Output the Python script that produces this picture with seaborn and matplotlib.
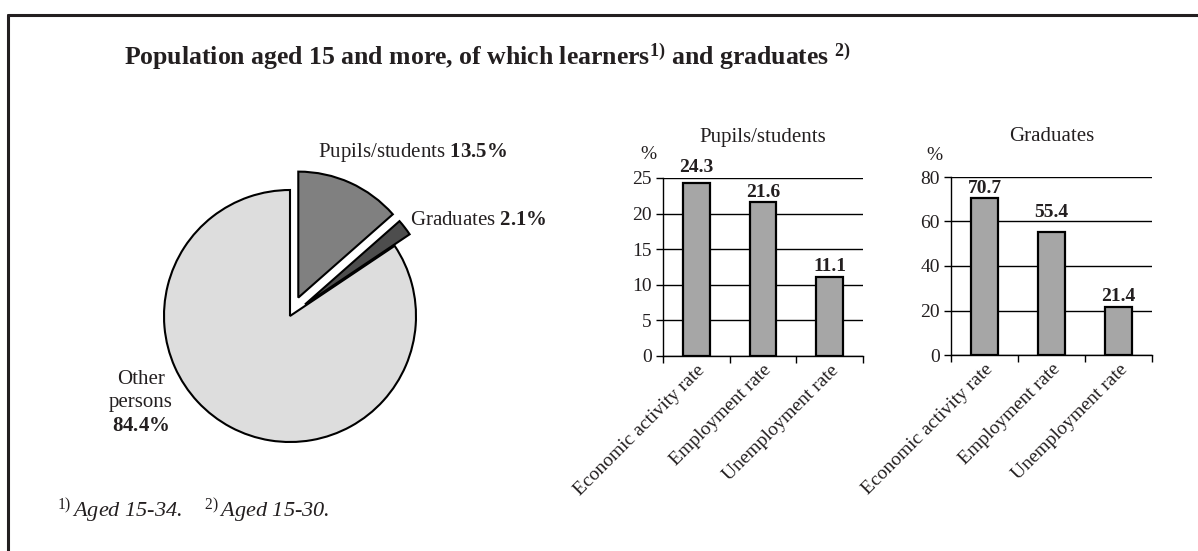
import matplotlib
matplotlib.use("Agg")
import matplotlib.pyplot as plt
import seaborn as sns
import pandas as pd
from matplotlib.lines import Line2D

# ---------------- data ----------------
pie_labels = ["Pupils/students", "Graduates", "Other\npersons"]
pie_values = [13.5, 2.1, 84.4]
rate_categories = ["Economic activity rate", "Employment rate", "Unemployment rate"]
pupils_rates = [24.3, 21.6, 11.1]
graduates_rates = [70.7, 55.4, 21.4]
pupils_yticks = [0, 5, 10, 15, 20, 25]
graduates_yticks = [0, 20, 40, 60, 80]
bar_titles = ["Pupils/students", "Graduates"]
title_main = "Population aged 15 and more, of which learners"
title_mid = " and graduates "
footnotes = [("1)", "Aged 15-34."), ("2)", "Aged 15-30.")]

# ---------------- style ----------------
sns.set_theme(style="white")
plt.rcParams["font.family"] = ["Liberation Serif", "DejaVu Serif"]
plt.rcParams["mathtext.fontset"] = "custom"
plt.rcParams["mathtext.rm"] = "Liberation Serif"
plt.rcParams["mathtext.it"] = "Liberation Serif:italic"
plt.rcParams["mathtext.bf"] = "Liberation Serif:bold"
TXT = "#231f20"
plt.rcParams["text.color"] = TXT
plt.rcParams["xtick.color"] = TXT
plt.rcParams["ytick.color"] = TXT

W, H = 1198, 551
fig = plt.figure(figsize=(W / 100, H / 100), dpi=100)
fig.patch.set_facecolor("white")


def px_rect(left, top, right, bottom):
    return [left / W, 1 - bottom / H, (right - left) / W, (bottom - top) / H]


# ---------------- frame ----------------
fy = 1 - 14.5 / H
fx = 8 / W
fig.add_artist(Line2D([fx, 1.0], [fy, fy], transform=fig.transFigure, color=TXT, lw=2.2))
fig.add_artist(Line2D([fx, fx], [fy, 0.0], transform=fig.transFigure, color=TXT, lw=2.2))

# ---------------- title ----------------
title = title_main + r"$^{\mathbf{1)}}$" + title_mid + r"$^{\mathbf{2)}}$"
fig.text(487 / W, 1 - 57 / H, title, ha="center", va="center",
         fontsize=18.5, fontweight="bold")

# ---------------- pie ----------------
cx, cy, r = 290, 316, 126
ax_pie = fig.add_axes(px_rect(cx - 2 * r, cy - 1.5 * r, cx + 2 * r, cy + 1.5 * r))
ax_pie.pie(pie_values, explode=[0.16, 0.15, 0.0],
           colors=["#808080", "#4d4d4d", "#dddddd"],
           startangle=90, counterclock=False,
           wedgeprops=dict(edgecolor="black", linewidth=1.5))
ax_pie.set_xlim(-2, 2)
ax_pie.set_ylim(-1.5, 1.5)
ax_pie.axis("off")

ax_pie.text(0.222, 1.262, f"{pie_labels[0]} $\\mathbf{{{pie_values[0]}\\%}}$",
            ha="left", va="baseline", fontsize=15)
ax_pie.text(0.952, 0.722, f"{pie_labels[1]} $\\mathbf{{{pie_values[1]}\\%}}$",
            ha="left", va="baseline", fontsize=15)
ax_pie.text(-1.183, -0.69, f"{pie_labels[2]}\n$\\mathbf{{{pie_values[2]}\\%}}$",
            ha="center", va="center", multialignment="center",
            fontsize=15, linespacing=1.3)

# ---------------- bar charts ----------------
ax1 = fig.add_axes(px_rect(663, 178, 863, 356))
ax2 = fig.add_axes(px_rect(951, 177, 1152, 355))

label_offsets = [[7.9, 3.6, 4.3], [3.6, 10.8, 4.3]]
pct_pos = [(-0.075, 1.13), (-0.08, 1.12)]

for k, (ax, vals, ticks) in enumerate([(ax1, pupils_rates, pupils_yticks),
                                       (ax2, graduates_rates, graduates_yticks)]):
    df = pd.DataFrame({"category": rate_categories, "value": vals})
    sns.barplot(data=df, x="category", y="value", color="#a6a6a6", saturation=1,
                edgecolor="black", linewidth=1.6, width=0.4, ax=ax)
    ax.set_ylim(ticks[0], ticks[-1])
    ax.set_yticks(ticks)
    ax.set_xlim(-0.5, len(rate_categories) - 0.5)
    ax.set_xlabel("")
    ax.set_ylabel("")
    ax.yaxis.grid(True, color="black", linewidth=1)
    ax.xaxis.grid(False)
    ax.set_axisbelow(True)
    for s in ["top", "right"]:
        ax.spines[s].set_visible(False)
    for s in ["left", "bottom"]:
        ax.spines[s].set_color("black")
        ax.spines[s].set_linewidth(1)
    ax.tick_params(axis="y", which="major", left=True, direction="out", length=5,
                   width=1, color="black", labelsize=14, pad=3)
    ax.set_xticks([i - 0.5 for i in range(len(rate_categories) + 1)], minor=True)
    ax.tick_params(axis="x", which="minor", bottom=True, direction="out", length=5,
                   width=1, color="black")
    ax.tick_params(axis="x", which="major", bottom=False, length=0, pad=4)
    ax.set_xticks(range(len(rate_categories)))
    ax.set_xticklabels(rate_categories, rotation=45, ha="right",
                       rotation_mode="anchor", fontsize=14)
    for i, v in enumerate(vals):
        ax.annotate(f"{v}", xy=(i, v), xytext=(0, label_offsets[k][i]),
                    textcoords="offset points", ha="center", va="baseline",
                    fontsize=14, fontweight="bold")
    ax.text(0.5, 1.23, bar_titles[k], transform=ax.transAxes, ha="center",
            va="center", fontsize=15)
    ax.text(pct_pos[k][0], pct_pos[k][1], "%", transform=ax.transAxes,
            ha="center", va="center", fontsize=14)

# ---------------- footnote ----------------
foot = "    ".join(f"$^{{\\mathit{{{s}}}}}\\,${t}" for s, t in footnotes)
fig.text(57 / W, 1 - 518 / H, foot, ha="left", va="baseline",
         fontsize=16, fontstyle="italic")

fig.savefig("out.png", dpi=100, facecolor="white")
